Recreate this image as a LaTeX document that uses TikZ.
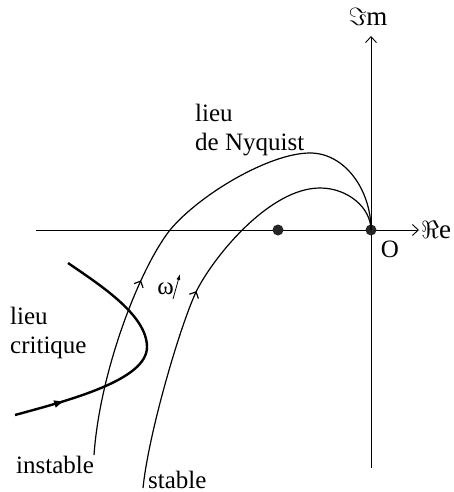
\documentclass[tikz,border=0pt]{standalone}
\usepackage{fontspec}
\setmainfont{Liberation Serif}
\usetikzlibrary{arrows.meta,decorations.markings}
\tikzset{
  lbl/.style={font=\fontsize{25}{28.5}\selectfont,inner sep=0pt},
  axe/.style={line width=0.9pt,-{Straight Barb[length=6pt,width=11pt]}},
  lieu/.style={line width=1.2pt},
  crit/.style={line width=2.4pt},
  pt/.style={circle,fill=black!85,inner sep=0pt,minimum size=11pt},
  fl/.style={postaction={decorate,decoration={markings,
    mark=at position #1 with {\arrow{Straight Barb[length=5pt,width=10pt]}}}}},
  flc/.style={postaction={decorate,decoration={markings,
    mark=at position #1 with {\arrow{Latex[length=11pt,width=8pt]}}}}},
}
\begin{document}
\begin{tikzpicture}[x=1pt,y=-1pt]
\useasboundingbox (0,0) rectangle (454,492);
% axes
\coordinate (reG) at (36,230);
\coordinate (reD) at (419,230);
\coordinate (imB) at (371,468);
\coordinate (imH) at (371,36);
\draw[axe] (reG) -- (reD);
\draw[axe] (imB) -- (imH);
\node[lbl,anchor=west] (re) at (421,230) {\fontsize{27}{28}\selectfont$\Re$e};
\node[lbl] (im) at (368,17) {\fontsize{27}{28}\selectfont$\Im$m};
\node[lbl] (o) at (390,249) {O};
\node[pt] (orig) at (371,230) {};
\node[pt] (crit) at (278,230) {};
% lieux de Nyquist
\coordinate (n1) at (94,455);
\coordinate (n2) at (170,230);
\coordinate (n3) at (310,153);
\draw[lieu,fl=0.355] (n1) .. controls (100,370) and (140,268) .. (n2)
  .. controls (200,194) and (270,153) .. (n3)
  .. controls (345,153) and (371,190) .. (orig.center);
\coordinate (s1) at (143,488);
\coordinate (s2) at (197,290);
\coordinate (s3) at (320,188);
\draw[lieu,fl=0.46] (s1) .. controls (149,430) and (182,320) .. (s2)
  .. controls (215,255) and (270,188) .. (s3)
  .. controls (348,188) and (371,208) .. (orig.center);
% lieu critique
\coordinate (c1) at (15,415);
\coordinate (c2) at (147,347);
\coordinate (c3) at (68,263);
\draw[crit,flc=0.19] (c1) .. controls (70,400) and (147,380) .. (c2)
  .. controls (147,315) and (100,285) .. (c3);
% omega
\coordinate (wA) at (173,299);
\coordinate (wB) at (180,274);
\draw[line width=0.8pt,-{Latex[length=6pt,width=4pt]}] (wA) -- (wB);
\node[lbl,anchor=east] (w) at (174,289) {ω};
% textes
\node[lbl,anchor=west,align=left] (nyq) at (195,130) {lieu\\de Nyquist};
\node[lbl,anchor=west,align=left] (lcrit) at (10,333) {lieu\\critique};
\node[lbl,anchor=base west] (inst) at (16,473) {instable};
\node[lbl,anchor=base west] (stab) at (148,488) {stable};
\end{tikzpicture}
\end{document}
